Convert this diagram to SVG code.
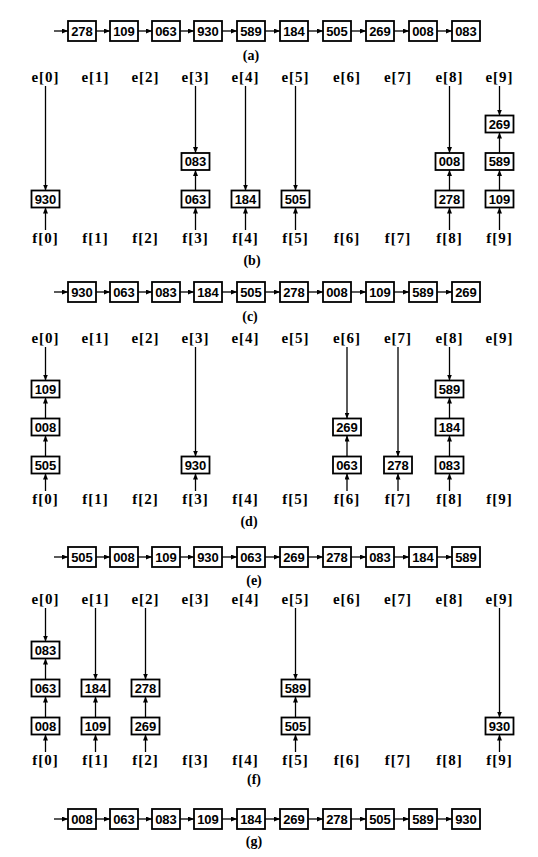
<svg xmlns="http://www.w3.org/2000/svg" width="538" height="857" viewBox="0 0 538 857">
<defs>
<marker id="ah" viewBox="0 0 6 5" refX="6" refY="2.5" markerWidth="6" markerHeight="5" markerUnits="userSpaceOnUse" orient="auto"><path d="M0,0 L6,2.5 L0,5 z" fill="#000"/></marker>
<style>
.bx{fill:#fff;stroke:#000;stroke-width:1.8}
.nt{font-family:"Liberation Sans",Arial,sans-serif;font-weight:bold;font-size:13px;text-anchor:middle;fill:#000}
.lb{font-family:"Liberation Serif","Times New Roman",serif;font-weight:bold;font-size:15px;text-anchor:middle;fill:#000;letter-spacing:1px}
.cp{font-family:"Liberation Serif","Times New Roman",serif;font-weight:bold;font-size:14px;text-anchor:middle;fill:#000}
line{stroke:#000;stroke-width:1.3;marker-end:url(#ah)}
</style>
</defs>
<rect width="538" height="857" fill="#fff"/>

<g id="connectors">
<!-- chain a -->
<line x1="54" y1="31" x2="68" y2="31"/><line x1="96" y1="31" x2="110" y2="31"/><line x1="138" y1="31" x2="152" y2="31"/><line x1="180" y1="31" x2="194" y2="31"/><line x1="222" y1="31" x2="237" y2="31"/><line x1="265" y1="31" x2="280" y2="31"/><line x1="308" y1="31" x2="323" y2="31"/><line x1="351" y1="31" x2="366" y2="31"/><line x1="394" y1="31" x2="409" y2="31"/><line x1="437" y1="31" x2="452" y2="31"/>
<!-- chain c -->
<line x1="54" y1="292" x2="68" y2="292"/><line x1="96" y1="292" x2="110" y2="292"/><line x1="138" y1="292" x2="152" y2="292"/><line x1="180" y1="292" x2="194" y2="292"/><line x1="222" y1="292" x2="237" y2="292"/><line x1="265" y1="292" x2="280" y2="292"/><line x1="308" y1="292" x2="323" y2="292"/><line x1="351" y1="292" x2="366" y2="292"/><line x1="394" y1="292" x2="409" y2="292"/><line x1="437" y1="292" x2="452" y2="292"/>
<!-- chain e -->
<line x1="54" y1="557" x2="68" y2="557"/><line x1="96" y1="557" x2="110" y2="557"/><line x1="138" y1="557" x2="152" y2="557"/><line x1="180" y1="557" x2="194" y2="557"/><line x1="222" y1="557" x2="237" y2="557"/><line x1="265" y1="557" x2="280" y2="557"/><line x1="308" y1="557" x2="323" y2="557"/><line x1="351" y1="557" x2="366" y2="557"/><line x1="394" y1="557" x2="409" y2="557"/><line x1="437" y1="557" x2="452" y2="557"/>
<!-- chain g -->
<line x1="54" y1="819" x2="68" y2="819"/><line x1="96" y1="819" x2="110" y2="819"/><line x1="138" y1="819" x2="152" y2="819"/><line x1="180" y1="819" x2="194" y2="819"/><line x1="222" y1="819" x2="237" y2="819"/><line x1="265" y1="819" x2="280" y2="819"/><line x1="308" y1="819" x2="323" y2="819"/><line x1="351" y1="819" x2="366" y2="819"/><line x1="394" y1="819" x2="409" y2="819"/><line x1="437" y1="819" x2="452" y2="819"/>
<!-- section b -->
<line x1="45.5" y1="86" x2="45.5" y2="190.5"/><line x1="45.5" y1="230" x2="45.5" y2="207.5"/>
<line x1="195.5" y1="86" x2="195.5" y2="153"/><line x1="195.5" y1="190.5" x2="195.5" y2="170"/><line x1="195.5" y1="230" x2="195.5" y2="207.5"/>
<line x1="245.5" y1="86" x2="245.5" y2="190.5"/><line x1="245.5" y1="230" x2="245.5" y2="207.5"/>
<line x1="295.5" y1="86" x2="295.5" y2="190.5"/><line x1="295.5" y1="230" x2="295.5" y2="207.5"/>
<line x1="449.5" y1="86" x2="449.5" y2="153"/><line x1="449.5" y1="190.5" x2="449.5" y2="170"/><line x1="449.5" y1="230" x2="449.5" y2="207.5"/>
<line x1="499.5" y1="86" x2="499.5" y2="115.5"/><line x1="499.5" y1="153" x2="499.5" y2="132.5"/><line x1="499.5" y1="190.5" x2="499.5" y2="170"/><line x1="499.5" y1="230" x2="499.5" y2="207.5"/>
<!-- section d -->
<line x1="45.5" y1="347" x2="45.5" y2="380.5"/><line x1="45.5" y1="418.5" x2="45.5" y2="397.5"/><line x1="45.5" y1="456.5" x2="45.5" y2="435.5"/><line x1="45.5" y1="491" x2="45.5" y2="473.5"/>
<line x1="195.5" y1="347" x2="195.5" y2="456.5"/><line x1="195.5" y1="491" x2="195.5" y2="473.5"/>
<line x1="347" y1="347" x2="347" y2="418.5"/><line x1="347" y1="456.5" x2="347" y2="435.5"/><line x1="347" y1="491" x2="347" y2="473.5"/>
<line x1="398" y1="347" x2="398" y2="456.5"/><line x1="398" y1="491" x2="398" y2="473.5"/>
<line x1="449.5" y1="347" x2="449.5" y2="380.5"/><line x1="449.5" y1="418.5" x2="449.5" y2="397.5"/><line x1="449.5" y1="456.5" x2="449.5" y2="435.5"/><line x1="449.5" y1="491" x2="449.5" y2="473.5"/>
<!-- section f -->
<line x1="45.5" y1="608" x2="45.5" y2="641.5"/><line x1="45.5" y1="679.5" x2="45.5" y2="658.5"/><line x1="45.5" y1="717.5" x2="45.5" y2="696.5"/><line x1="45.5" y1="752" x2="45.5" y2="734.5"/>
<line x1="95.5" y1="608" x2="95.5" y2="679.5"/><line x1="95.5" y1="717.5" x2="95.5" y2="696.5"/><line x1="95.5" y1="752" x2="95.5" y2="734.5"/>
<line x1="145.5" y1="608" x2="145.5" y2="679.5"/><line x1="145.5" y1="717.5" x2="145.5" y2="696.5"/><line x1="145.5" y1="752" x2="145.5" y2="734.5"/>
<line x1="295.5" y1="608" x2="295.5" y2="679.5"/><line x1="295.5" y1="717.5" x2="295.5" y2="696.5"/><line x1="295.5" y1="752" x2="295.5" y2="734.5"/>
<line x1="499.5" y1="608" x2="499.5" y2="717.5"/><line x1="499.5" y1="752" x2="499.5" y2="734.5"/>
</g>

<!-- chain (a) -->
<g id="a0"><rect class="bx" x="68" y="21" width="28" height="20"/><text class="nt" x="82" y="35.7">278</text></g>
<g id="a1"><rect class="bx" x="110" y="21" width="28" height="20"/><text class="nt" x="124" y="35.7">109</text></g>
<g id="a2"><rect class="bx" x="152" y="21" width="28" height="20"/><text class="nt" x="166" y="35.7">063</text></g>
<g id="a3"><rect class="bx" x="194" y="21" width="28" height="20"/><text class="nt" x="208" y="35.7">930</text></g>
<g id="a4"><rect class="bx" x="237" y="21" width="28" height="20"/><text class="nt" x="251" y="35.7">589</text></g>
<g id="a5"><rect class="bx" x="280" y="21" width="28" height="20"/><text class="nt" x="294" y="35.7">184</text></g>
<g id="a6"><rect class="bx" x="323" y="21" width="28" height="20"/><text class="nt" x="337" y="35.7">505</text></g>
<g id="a7"><rect class="bx" x="366" y="21" width="28" height="20"/><text class="nt" x="380" y="35.7">269</text></g>
<g id="a8"><rect class="bx" x="409" y="21" width="28" height="20"/><text class="nt" x="423" y="35.7">008</text></g>
<g id="a9"><rect class="bx" x="452" y="21" width="28" height="20"/><text class="nt" x="466" y="35.7">083</text></g>
<text class="cp" x="251" y="60">(a)</text>

<!-- section (b) -->
<g id="b-labels">
<text class="lb" x="45.5" y="82">e[0]</text><text class="lb" x="95.5" y="82">e[1]</text><text class="lb" x="145.5" y="82">e[2]</text><text class="lb" x="195.5" y="82">e[3]</text><text class="lb" x="245.5" y="82">e[4]</text><text class="lb" x="295.5" y="82">e[5]</text><text class="lb" x="347" y="82">e[6]</text><text class="lb" x="398" y="82">e[7]</text><text class="lb" x="449.5" y="82">e[8]</text><text class="lb" x="499.5" y="82">e[9]</text>
<text class="lb" x="45.5" y="243">f[0]</text><text class="lb" x="95.5" y="243">f[1]</text><text class="lb" x="145.5" y="243">f[2]</text><text class="lb" x="195.5" y="243">f[3]</text><text class="lb" x="245.5" y="243">f[4]</text><text class="lb" x="295.5" y="243">f[5]</text><text class="lb" x="347" y="243">f[6]</text><text class="lb" x="398" y="243">f[7]</text><text class="lb" x="449.5" y="243">f[8]</text><text class="lb" x="499.5" y="243">f[9]</text>
</g>
<g id="b0"><rect class="bx" x="31.5" y="190.5" width="28" height="17"/><text class="nt" x="45.5" y="203.6">930</text></g>
<g id="b3a"><rect class="bx" x="181.5" y="190.5" width="28" height="17"/><text class="nt" x="195.5" y="203.6">063</text></g>
<g id="b3b"><rect class="bx" x="181.5" y="153" width="28" height="17"/><text class="nt" x="195.5" y="166.1">083</text></g>
<g id="b4"><rect class="bx" x="231.5" y="190.5" width="28" height="17"/><text class="nt" x="245.5" y="203.6">184</text></g>
<g id="b5"><rect class="bx" x="281.5" y="190.5" width="28" height="17"/><text class="nt" x="295.5" y="203.6">505</text></g>
<g id="b8a"><rect class="bx" x="435.5" y="190.5" width="28" height="17"/><text class="nt" x="449.5" y="203.6">278</text></g>
<g id="b8b"><rect class="bx" x="435.5" y="153" width="28" height="17"/><text class="nt" x="449.5" y="166.1">008</text></g>
<g id="b9a"><rect class="bx" x="485.5" y="190.5" width="28" height="17"/><text class="nt" x="499.5" y="203.6">109</text></g>
<g id="b9b"><rect class="bx" x="485.5" y="153" width="28" height="17"/><text class="nt" x="499.5" y="166.1">589</text></g>
<g id="b9c"><rect class="bx" x="485.5" y="115.5" width="28" height="17"/><text class="nt" x="499.5" y="128.6">269</text></g>
<text class="cp" x="252" y="265">(b)</text>

<!-- chain (c) -->
<g id="c0"><rect class="bx" x="68" y="282" width="28" height="20"/><text class="nt" x="82" y="296.7">930</text></g>
<g id="c1"><rect class="bx" x="110" y="282" width="28" height="20"/><text class="nt" x="124" y="296.7">063</text></g>
<g id="c2"><rect class="bx" x="152" y="282" width="28" height="20"/><text class="nt" x="166" y="296.7">083</text></g>
<g id="c3"><rect class="bx" x="194" y="282" width="28" height="20"/><text class="nt" x="208" y="296.7">184</text></g>
<g id="c4"><rect class="bx" x="237" y="282" width="28" height="20"/><text class="nt" x="251" y="296.7">505</text></g>
<g id="c5"><rect class="bx" x="280" y="282" width="28" height="20"/><text class="nt" x="294" y="296.7">278</text></g>
<g id="c6"><rect class="bx" x="323" y="282" width="28" height="20"/><text class="nt" x="337" y="296.7">008</text></g>
<g id="c7"><rect class="bx" x="366" y="282" width="28" height="20"/><text class="nt" x="380" y="296.7">109</text></g>
<g id="c8"><rect class="bx" x="409" y="282" width="28" height="20"/><text class="nt" x="423" y="296.7">589</text></g>
<g id="c9"><rect class="bx" x="452" y="282" width="28" height="20"/><text class="nt" x="466" y="296.7">269</text></g>
<text class="cp" x="250" y="321">(c)</text>

<!-- section (d) -->
<g id="d-labels">
<text class="lb" x="45.5" y="343">e[0]</text><text class="lb" x="95.5" y="343">e[1]</text><text class="lb" x="145.5" y="343">e[2]</text><text class="lb" x="195.5" y="343">e[3]</text><text class="lb" x="245.5" y="343">e[4]</text><text class="lb" x="295.5" y="343">e[5]</text><text class="lb" x="347" y="343">e[6]</text><text class="lb" x="398" y="343">e[7]</text><text class="lb" x="449.5" y="343">e[8]</text><text class="lb" x="499.5" y="343">e[9]</text>
<text class="lb" x="45.5" y="504">f[0]</text><text class="lb" x="95.5" y="504">f[1]</text><text class="lb" x="145.5" y="504">f[2]</text><text class="lb" x="195.5" y="504">f[3]</text><text class="lb" x="245.5" y="504">f[4]</text><text class="lb" x="295.5" y="504">f[5]</text><text class="lb" x="347" y="504">f[6]</text><text class="lb" x="398" y="504">f[7]</text><text class="lb" x="449.5" y="504">f[8]</text><text class="lb" x="499.5" y="504">f[9]</text>
</g>
<g id="d0a"><rect class="bx" x="31.5" y="456.5" width="28" height="17"/><text class="nt" x="45.5" y="469.6">505</text></g>
<g id="d0b"><rect class="bx" x="31.5" y="418.5" width="28" height="17"/><text class="nt" x="45.5" y="431.6">008</text></g>
<g id="d0c"><rect class="bx" x="31.5" y="380.5" width="28" height="17"/><text class="nt" x="45.5" y="393.6">109</text></g>
<g id="d3"><rect class="bx" x="181.5" y="456.5" width="28" height="17"/><text class="nt" x="195.5" y="469.6">930</text></g>
<g id="d6a"><rect class="bx" x="333" y="456.5" width="28" height="17"/><text class="nt" x="347" y="469.6">063</text></g>
<g id="d6b"><rect class="bx" x="333" y="418.5" width="28" height="17"/><text class="nt" x="347" y="431.6">269</text></g>
<g id="d7"><rect class="bx" x="384" y="456.5" width="28" height="17"/><text class="nt" x="398" y="469.6">278</text></g>
<g id="d8a"><rect class="bx" x="435.5" y="456.5" width="28" height="17"/><text class="nt" x="449.5" y="469.6">083</text></g>
<g id="d8b"><rect class="bx" x="435.5" y="418.5" width="28" height="17"/><text class="nt" x="449.5" y="431.6">184</text></g>
<g id="d8c"><rect class="bx" x="435.5" y="380.5" width="28" height="17"/><text class="nt" x="449.5" y="393.6">589</text></g>
<text class="cp" x="249" y="526">(d)</text>

<!-- chain (e) -->
<g id="e0"><rect class="bx" x="68" y="547" width="28" height="20"/><text class="nt" x="82" y="561.7">505</text></g>
<g id="e1"><rect class="bx" x="110" y="547" width="28" height="20"/><text class="nt" x="124" y="561.7">008</text></g>
<g id="e2"><rect class="bx" x="152" y="547" width="28" height="20"/><text class="nt" x="166" y="561.7">109</text></g>
<g id="e3"><rect class="bx" x="194" y="547" width="28" height="20"/><text class="nt" x="208" y="561.7">930</text></g>
<g id="e4"><rect class="bx" x="237" y="547" width="28" height="20"/><text class="nt" x="251" y="561.7">063</text></g>
<g id="e5"><rect class="bx" x="280" y="547" width="28" height="20"/><text class="nt" x="294" y="561.7">269</text></g>
<g id="e6"><rect class="bx" x="323" y="547" width="28" height="20"/><text class="nt" x="337" y="561.7">278</text></g>
<g id="e7"><rect class="bx" x="366" y="547" width="28" height="20"/><text class="nt" x="380" y="561.7">083</text></g>
<g id="e8"><rect class="bx" x="409" y="547" width="28" height="20"/><text class="nt" x="423" y="561.7">184</text></g>
<g id="e9"><rect class="bx" x="452" y="547" width="28" height="20"/><text class="nt" x="466" y="561.7">589</text></g>
<text class="cp" x="254" y="585">(e)</text>

<!-- section (f) -->
<g id="f-labels">
<text class="lb" x="45.5" y="604">e[0]</text><text class="lb" x="95.5" y="604">e[1]</text><text class="lb" x="145.5" y="604">e[2]</text><text class="lb" x="195.5" y="604">e[3]</text><text class="lb" x="245.5" y="604">e[4]</text><text class="lb" x="295.5" y="604">e[5]</text><text class="lb" x="347" y="604">e[6]</text><text class="lb" x="398" y="604">e[7]</text><text class="lb" x="449.5" y="604">e[8]</text><text class="lb" x="499.5" y="604">e[9]</text>
<text class="lb" x="45.5" y="765">f[0]</text><text class="lb" x="95.5" y="765">f[1]</text><text class="lb" x="145.5" y="765">f[2]</text><text class="lb" x="195.5" y="765">f[3]</text><text class="lb" x="245.5" y="765">f[4]</text><text class="lb" x="295.5" y="765">f[5]</text><text class="lb" x="347" y="765">f[6]</text><text class="lb" x="398" y="765">f[7]</text><text class="lb" x="449.5" y="765">f[8]</text><text class="lb" x="499.5" y="765">f[9]</text>
</g>
<g id="f0a"><rect class="bx" x="31.5" y="717.5" width="28" height="17"/><text class="nt" x="45.5" y="730.6">008</text></g>
<g id="f0b"><rect class="bx" x="31.5" y="679.5" width="28" height="17"/><text class="nt" x="45.5" y="692.6">063</text></g>
<g id="f0c"><rect class="bx" x="31.5" y="641.5" width="28" height="17"/><text class="nt" x="45.5" y="654.6">083</text></g>
<g id="f1a"><rect class="bx" x="81.5" y="717.5" width="28" height="17"/><text class="nt" x="95.5" y="730.6">109</text></g>
<g id="f1b"><rect class="bx" x="81.5" y="679.5" width="28" height="17"/><text class="nt" x="95.5" y="692.6">184</text></g>
<g id="f2a"><rect class="bx" x="131.5" y="717.5" width="28" height="17"/><text class="nt" x="145.5" y="730.6">269</text></g>
<g id="f2b"><rect class="bx" x="131.5" y="679.5" width="28" height="17"/><text class="nt" x="145.5" y="692.6">278</text></g>
<g id="f5a"><rect class="bx" x="281.5" y="717.5" width="28" height="17"/><text class="nt" x="295.5" y="730.6">505</text></g>
<g id="f5b"><rect class="bx" x="281.5" y="679.5" width="28" height="17"/><text class="nt" x="295.5" y="692.6">589</text></g>
<g id="f9"><rect class="bx" x="485.5" y="717.5" width="28" height="17"/><text class="nt" x="499.5" y="730.6">930</text></g>
<text class="cp" x="254" y="784">(f)</text>

<!-- chain (g) -->
<g id="g0"><rect class="bx" x="68" y="809" width="28" height="20"/><text class="nt" x="82" y="823.7">008</text></g>
<g id="g1"><rect class="bx" x="110" y="809" width="28" height="20"/><text class="nt" x="124" y="823.7">063</text></g>
<g id="g2"><rect class="bx" x="152" y="809" width="28" height="20"/><text class="nt" x="166" y="823.7">083</text></g>
<g id="g3"><rect class="bx" x="194" y="809" width="28" height="20"/><text class="nt" x="208" y="823.7">109</text></g>
<g id="g4"><rect class="bx" x="237" y="809" width="28" height="20"/><text class="nt" x="251" y="823.7">184</text></g>
<g id="g5"><rect class="bx" x="280" y="809" width="28" height="20"/><text class="nt" x="294" y="823.7">269</text></g>
<g id="g6"><rect class="bx" x="323" y="809" width="28" height="20"/><text class="nt" x="337" y="823.7">278</text></g>
<g id="g7"><rect class="bx" x="366" y="809" width="28" height="20"/><text class="nt" x="380" y="823.7">505</text></g>
<g id="g8"><rect class="bx" x="409" y="809" width="28" height="20"/><text class="nt" x="423" y="823.7">589</text></g>
<g id="g9"><rect class="bx" x="452" y="809" width="28" height="20"/><text class="nt" x="466" y="823.7">930</text></g>
<text class="cp" x="254" y="846">(g)</text>
</svg>
